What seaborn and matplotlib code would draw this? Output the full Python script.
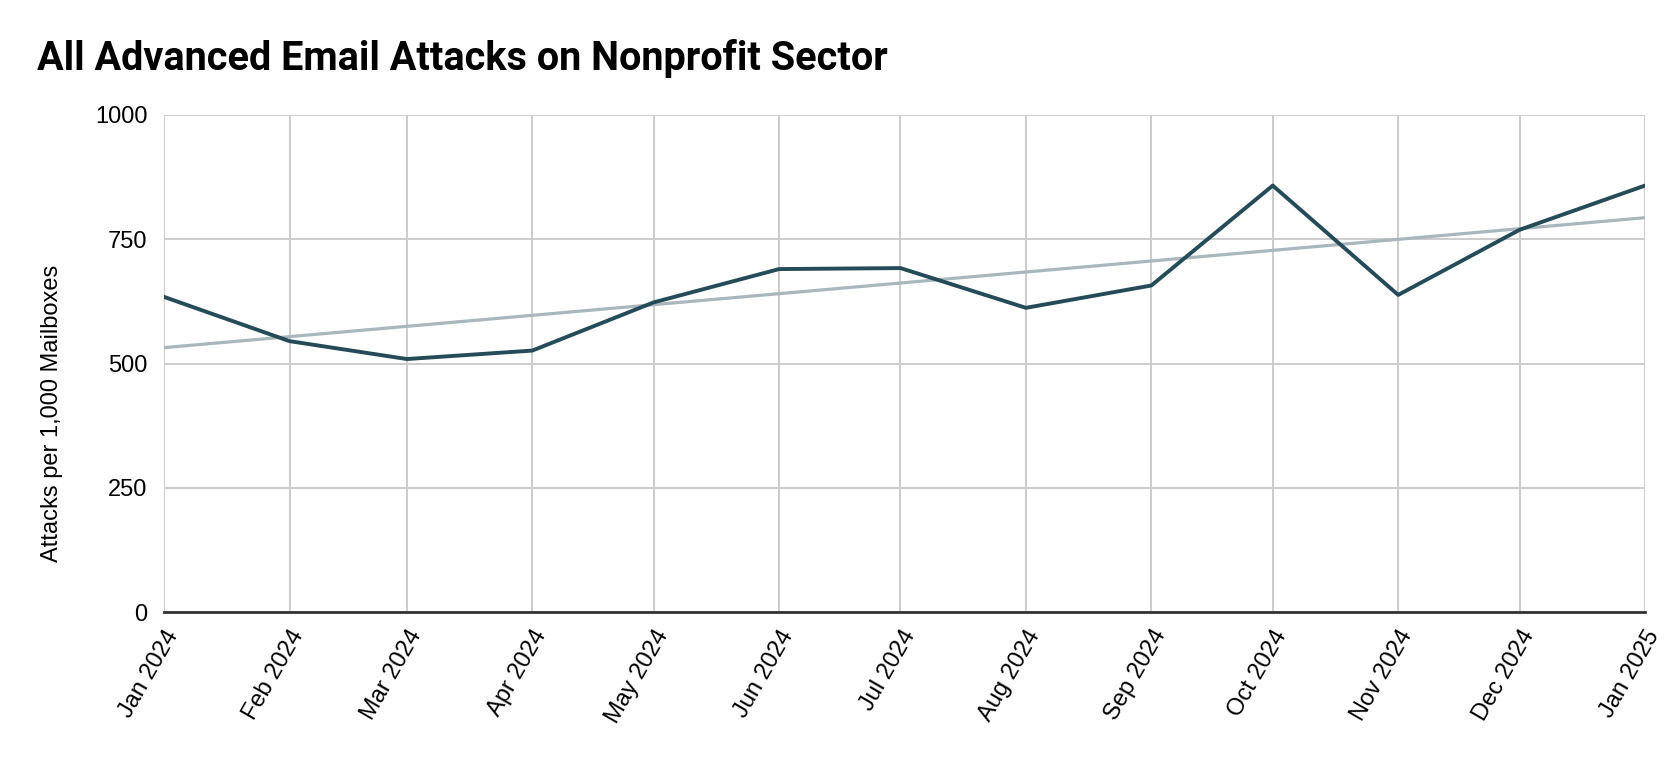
"""Nonprofit sector advanced email attacks, monthly line with linear trend."""

import matplotlib
matplotlib.use("Agg")
import matplotlib.dates as mdates
import matplotlib.pyplot as plt
import pandas as pd
import seaborn as sns


months = ["2024-01", "2024-02", "2024-03", "2024-04", "2024-05", "2024-06", "2024-07",
          "2024-08", "2024-09", "2024-10", "2024-11", "2024-12", "2025-01"]
attacks = [634, 545, 509, 526, 623, 690, 692, 612, 657, 858, 638, 769, 858]
y_ticks = [0, 250, 500, 750, 1000]

TITLE = "All Advanced Email Attacks on Nonprofit Sector"
Y_LABEL = "Attacks per 1,000 Mailboxes"
LINE_COLOR = "#244b57"
TREND_COLOR = "#a9b7bc"
GRID_COLOR = "#cccccc"

df = pd.DataFrame({"month": pd.to_datetime(months), "attacks": attacks})
df["x_num"] = mdates.date2num(df["month"])

sns.set_theme(style="white")
plt.rcParams["font.family"] = ["Liberation Sans", "DejaVu Sans"]
plt.rcParams["text.color"] = "black"
plt.rcParams["axes.labelcolor"] = "black"

fig = plt.figure(figsize=(16.81, 7.6), dpi=100)
ax = fig.add_axes([0.0976, 0.1947, 0.8810, 0.6540])

sns.lineplot(data=df, x="month", y="attacks", ax=ax, color=LINE_COLOR,
             linewidth=2.8, zorder=4)
# linear trend fitted to the monthly values
sns.regplot(data=df, x="x_num", y="attacks", ax=ax, scatter=False, ci=None,
            truncate=True, line_kws={"color": TREND_COLOR, "linewidth": 2.3, "zorder": 3})

ax.set_xlim(df["month"].iloc[0], df["month"].iloc[-1])
ax.set_ylim(0, 1000)
ax.set_yticks(y_ticks)
ax.set_xticks(df["month"])
ax.set_xticklabels(df["month"].dt.strftime("%b %Y"), rotation=60, ha="right",
                   rotation_mode="anchor")

ax.grid(True, color=GRID_COLOR, linewidth=1.4)
ax.set_axisbelow(True)
for side in ["top", "right", "left"]:
    ax.spines[side].set_visible(False)
ax.spines["bottom"].set_color("#333333")
ax.spines["bottom"].set_linewidth(2)
ax.spines["bottom"].set_zorder(5)

ax.tick_params(axis="both", length=0, labelsize=17, colors="black")
ax.tick_params(axis="y", pad=12)
ax.tick_params(axis="x", pad=10)
ax.set_xlabel("")
ax.set_ylabel(Y_LABEL, fontsize=17, labelpad=22)
ax.yaxis.set_label_coords(-0.068, 0.40)

fig.text(0.022, 0.908, TITLE, fontsize=28.5, fontweight="bold", family="Roboto",
         color="black", ha="left", va="baseline")

fig.savefig("out.png", dpi=100)
plt.close(fig)
